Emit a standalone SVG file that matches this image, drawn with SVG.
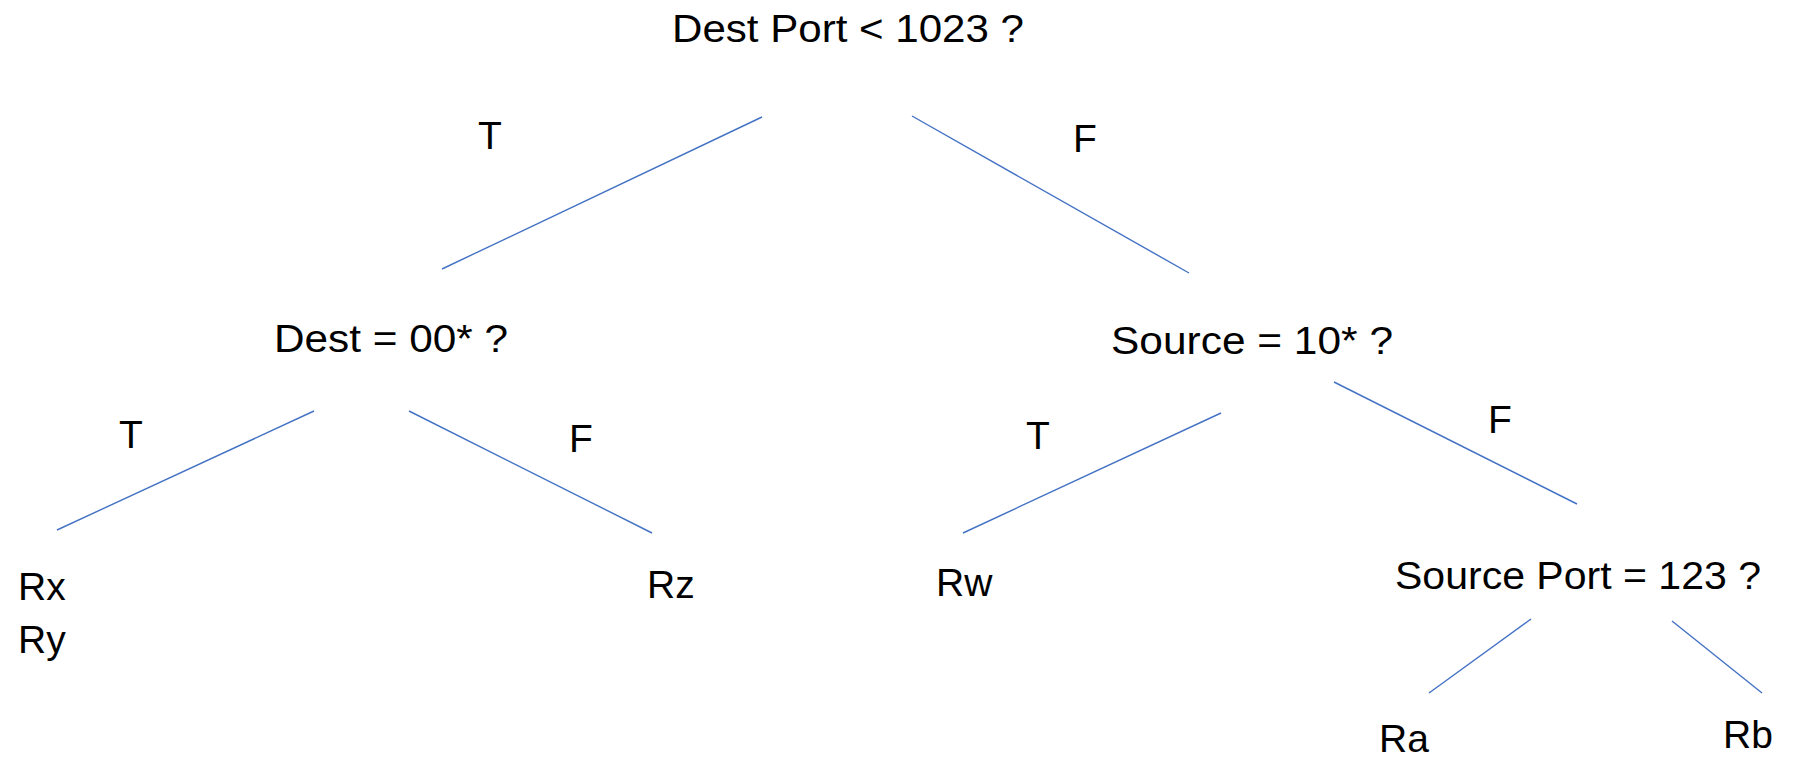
<svg xmlns="http://www.w3.org/2000/svg" width="1797" height="758" viewBox="0 0 1797 758">
  <style>
    .lbl { font-family: "Liberation Sans", Arial, sans-serif; font-size: 39px; fill: #000; }
    .edge { stroke: #4472C4; stroke-width: 1.4; fill: none; }
  </style>
  <rect width="1797" height="758" fill="#fff"/>

  <!-- decision tree edges -->
  <g id="connectors">
    <line class="edge" x1="762" y1="117" x2="442" y2="269"/>
    <line class="edge" x1="912" y1="116" x2="1189" y2="273"/>
    <line class="edge" x1="314" y1="411" x2="57" y2="530"/>
    <line class="edge" x1="409" y1="411" x2="652" y2="533"/>
    <line class="edge" x1="1221" y1="413" x2="963" y2="533"/>
    <line class="edge" x1="1334" y1="382" x2="1577" y2="504"/>
    <line class="edge" x1="1531" y1="619" x2="1429" y2="693"/>
    <line class="edge" x1="1672" y1="621" x2="1762" y2="693"/>
  </g>

  <!-- branch labels -->
  <g id="edge-labels">
    <text class="lbl" x="478" y="149">T</text>
    <text class="lbl" x="1073" y="152">F</text>
    <text class="lbl" x="119" y="448">T</text>
    <text class="lbl" x="569" y="452">F</text>
    <text class="lbl" x="1026" y="449">T</text>
    <text class="lbl" x="1488" y="433">F</text>
  </g>

  <!-- tests -->
  <g id="root"><text class="lbl" x="672" y="42" textLength="352" lengthAdjust="spacingAndGlyphs">Dest Port &lt; 1023 ?</text></g>
  <g id="dest-test"><text class="lbl" x="274" y="352" textLength="234" lengthAdjust="spacingAndGlyphs">Dest = 00* ?</text></g>
  <g id="source-test"><text class="lbl" x="1111" y="354" textLength="282" lengthAdjust="spacingAndGlyphs">Source = 10* ?</text></g>
  <g id="source-port-test"><text class="lbl" x="1395" y="589" textLength="366" lengthAdjust="spacingAndGlyphs">Source Port = 123 ?</text></g>

  <!-- leaves -->
  <g id="leaf-rx-ry">
    <text class="lbl" x="18" y="600">Rx</text>
    <text class="lbl" x="18" y="653">Ry</text>
  </g>
  <g id="leaf-rz"><text class="lbl" x="647" y="598">Rz</text></g>
  <g id="leaf-rw"><text class="lbl" x="936" y="596">Rw</text></g>
  <g id="leaf-ra"><text class="lbl" x="1379" y="752">Ra</text></g>
  <g id="leaf-rb"><text class="lbl" x="1723" y="748">Rb</text></g>
</svg>
